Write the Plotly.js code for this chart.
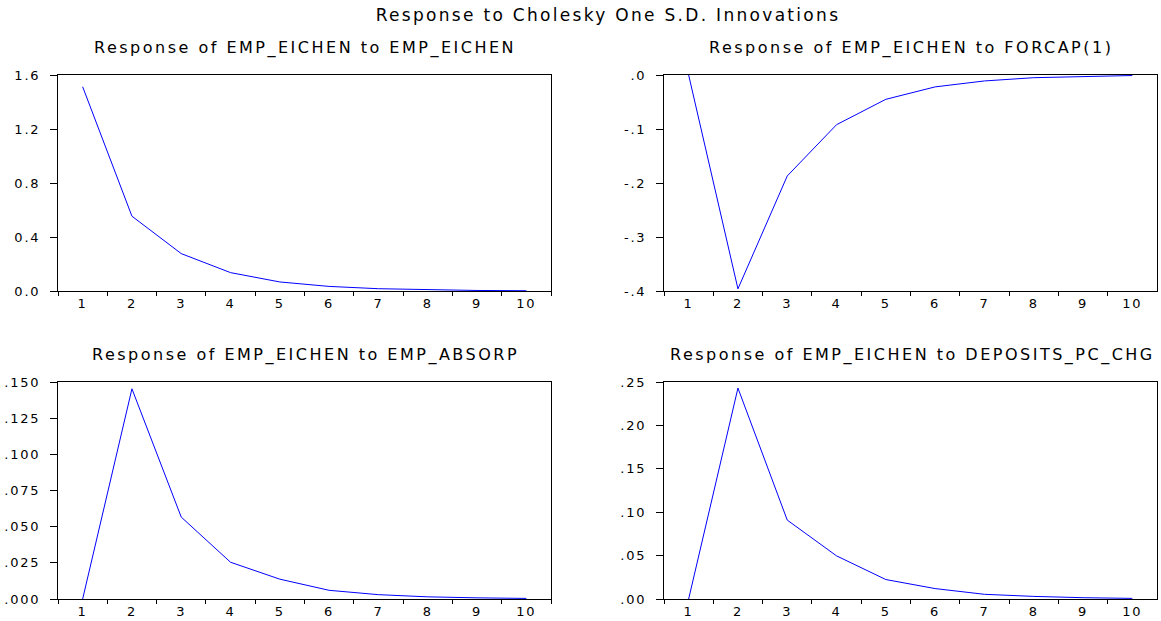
<!DOCTYPE html>
<html>
<head>
<meta charset="utf-8">
<script src="https://cdn.plot.ly/plotly-3.0.1.min.js"></script>
<style>
html, body { margin: 0; padding: 0; background: #ffffff; }
.gtitle { letter-spacing: 2.3px; }
.annotation-text { letter-spacing: 2.5px; }
.xaxislayer-above text, .yaxislayer-above text { letter-spacing: 1.8px; }
</style>
</head>
<body>
<div id="chart" style="width:1161px;height:621px;"></div>
<script>
// ---- data ----
const periods = ["1", "2", "3", "4", "5", "6", "7", "8", "9", "10"];

const respToEmpEichen = [1.513, 0.554, 0.277, 0.136, 0.067, 0.034, 0.017, 0.008, 0.004, 0.002];
const respToForcap = [0.000, -0.396, -0.187, -0.092, -0.045, -0.022, -0.011, -0.005, -0.003, -0.001];
const respToEmpAbsorp = [0.000, 0.1453, 0.0566, 0.0254, 0.0137, 0.0060, 0.0030, 0.0015, 0.0008, 0.0004];
const respToDeposits = [0.000, 0.243, 0.0909, 0.0497, 0.0224, 0.0120, 0.0054, 0.0030, 0.0015, 0.0007];

const panelTitles = [
  "Response of EMP_EICHEN to EMP_EICHEN",
  "Response of EMP_EICHEN to FORCAP(1)",
  "Response of EMP_EICHEN to EMP_ABSORP",
  "Response of EMP_EICHEN to DEPOSITS_PC_CHG"
];
const mainTitle = "Response to Cholesky One S.D. Innovations";

const yTickVals1 = [0, 0.4, 0.8, 1.2, 1.6];
const yTickText1 = ["0.0", "0.4", "0.8", "1.2", "1.6"];
const yTickVals2 = [-0.4, -0.3, -0.2, -0.1, 0];
const yTickText2 = ["-.4", "-.3", "-.2", "-.1", ".0"];
const yTickVals3 = [0, 0.025, 0.05, 0.075, 0.1, 0.125, 0.15];
const yTickText3 = [".000", ".025", ".050", ".075", ".100", ".125", ".150"];
const yTickVals4 = [0, 0.05, 0.1, 0.15, 0.2, 0.25];
const yTickText4 = [".00", ".05", ".10", ".15", ".20", ".25"];

// ---- layout helpers ----
const W = 1161, H = 621;
const FONT = "DejaVu Sans";
const px = v => v / W;
const py = v => 1 - v / H;

const colL = [px(58), px(551)];
const colR = [px(664), px(1157)];
const rowT = [py(291), py(75)];
const rowB = [py(599), py(382)];

function xAxis(domain, anchor) {
  return {
    domain: domain, anchor: anchor, type: "category",
    range: [-0.5, 9.5], tickson: "boundaries",
    ticks: "outside", ticklen: 4, tickwidth: 1, tickcolor: "#000",
    showline: true, linecolor: "#000", linewidth: 1, mirror: true,
    showgrid: false, zeroline: false, fixedrange: true,
    tickfont: { family: FONT, size: 13, color: "#000" }
  };
}
function yAxis(domain, anchor, range, vals, text) {
  return {
    domain: domain, anchor: anchor, range: range,
    tickmode: "array", tickvals: vals, ticktext: text,
    ticks: "outside", ticklen: 7, tickwidth: 1, tickcolor: "#000",
    ticklabelstandoff: 7,
    showline: true, linecolor: "#000", linewidth: 1, mirror: true,
    showgrid: false, zeroline: false, fixedrange: true,
    tickfont: { family: FONT, size: 13, color: "#000" }
  };
}
function lineTrace(y, xa, ya) {
  return {
    x: periods, y: y, xaxis: xa, yaxis: ya, type: "scatter", mode: "lines",
    line: { color: "#0000FF", width: 1 }, showlegend: false,
    hoverinfo: "skip", cliponaxis: false
  };
}

const data = [
  lineTrace(respToEmpEichen, "x", "y"),
  lineTrace(respToForcap, "x2", "y2"),
  lineTrace(respToEmpAbsorp, "x3", "y3"),
  lineTrace(respToDeposits, "x4", "y4")
];

function subTitle(text, xc, yc) {
  return {
    text: text, xref: "paper", yref: "paper", x: xc, y: yc,
    xanchor: "center", yanchor: "middle", showarrow: false,
    font: { family: FONT, size: 16, color: "#000" }
  };
}

const layout = {
  width: W, height: H,
  margin: { l: 0, r: 0, t: 0, b: 0, pad: 0 },
  paper_bgcolor: "#ffffff", plot_bgcolor: "#ffffff",
  title: {
    text: mainTitle, x: px(608), xanchor: "center",
    y: py(15.5), yanchor: "middle",
    font: { family: FONT, size: 17, color: "#000" }
  },
  xaxis: xAxis(colL, "y"),
  yaxis: yAxis(rowT, "x", [0, 1.6], yTickVals1, yTickText1),
  xaxis2: xAxis(colR, "y2"),
  yaxis2: yAxis(rowT, "x2", [-0.4, 0], yTickVals2, yTickText2),
  xaxis3: xAxis(colL, "y3"),
  yaxis3: yAxis(rowB, "x3", [0, 0.15], yTickVals3, yTickText3),
  xaxis4: xAxis(colR, "y4"),
  yaxis4: yAxis(rowB, "x4", [0, 0.25], yTickVals4, yTickText4),
  annotations: [
    subTitle(panelTitles[0], px(305), py(48)),
    subTitle(panelTitles[1], px(911), py(48)),
    subTitle(panelTitles[2], px(305), py(355)),
    subTitle(panelTitles[3], px(912), py(355))
  ]
};

Plotly.newPlot("chart", data, layout, { staticPlot: true, displayModeBar: false });
</script>
</body>
</html>
